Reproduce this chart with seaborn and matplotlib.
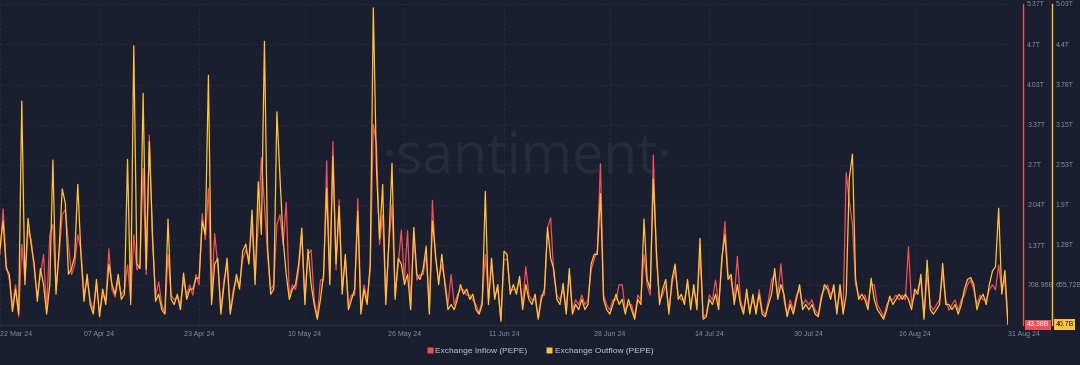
import pandas as pd
import matplotlib
matplotlib.use('Agg')
import matplotlib.pyplot as plt
import matplotlib.transforms as mtransforms
from matplotlib.lines import Line2D
import seaborn as sns

# 12-hour samples, 22 Mar 24 -> 31 Aug 24 (values in trillions of PEPE)
dates = pd.date_range('2024-03-22', '2024-08-31', freq='12h')

inflow = [
    1.21, 1.97, 1.04, 0.79, 0.34, 0.71, 0.18, 1.38, 0.79, 1.62,
    1.46, 0.96, 0.51, 0.88, 1.21, 0.29, 1.54, 1.71, 0.63, 1.21,
    1.87, 1.96, 1.38, 0.88, 1.04, 1.54, 1.29, 0.54, 0.79, 0.46,
    0.29, 0.71, 0.24, 0.54, 0.46, 1.31, 0.63, 0.51, 0.79, 0.54,
    0.63, 1.04, 0.46, 1.54, 0.96, 1.04, 2.64, 0.88, 3.19, 1.46,
    0.51, 0.76, 0.38, 0.24, 1.21, 0.54, 0.46, 0.51, 0.38, 0.79,
    0.54, 0.71, 0.54, 0.88, 0.71, 1.89, 1.46, 2.31, 0.46, 1.56,
    1.04, 0.29, 0.79, 1.04, 0.29, 0.63, 0.79, 0.71, 1.13, 1.29,
    1.13, 1.71, 0.79, 1.71, 2.82, 2.04, 1.21, 0.63, 0.71, 1.71,
    1.87, 1.38, 2.08, 0.54, 0.71, 0.63, 0.96, 1.54, 0.46, 1.21,
    1.29, 0.46, 0.18, 0.79, 0.79, 2.77, 0.79, 3.09, 0.96, 2.12,
    0.63, 1.13, 0.38, 0.54, 0.54, 2.14, 0.29, 0.71, 0.46, 0.96,
    3.37, 3.04, 1.38, 1.87, 0.46, 1.38, 2.04, 0.54, 1.04, 1.62,
    0.79, 1.61, 0.38, 1.54, 0.79, 0.88, 0.88, 1.21, 0.29, 2.11,
    1.13, 0.79, 1.04, 0.79, 0.38, 0.88, 0.38, 0.54, 0.63, 0.63,
    0.54, 0.54, 0.46, 0.38, 0.24, 0.46, 1.21, 0.46, 1.04, 0.54,
    0.63, 0.13, 1.13, 1.13, 0.63, 0.63, 0.63, 0.79, 0.38, 1.01,
    0.54, 0.46, 0.46, 0.18, 0.54, 0.54, 1.66, 1.82, 0.88, 0.54,
    0.46, 0.63, 0.29, 0.88, 0.29, 0.46, 0.38, 0.54, 0.38, 0.46,
    0.96, 1.13, 1.29, 2.72, 0.54, 0.38, 0.29, 0.46, 0.46, 0.71,
    0.71, 0.29, 0.38, 0.38, 0.18, 0.54, 0.46, 1.21, 0.71, 0.54,
    2.86, 1.13, 0.46, 0.54, 0.71, 0.29, 0.71, 0.96, 0.54, 0.46,
    0.46, 0.71, 0.38, 0.63, 0.38, 1.21, 0.18, 0.21, 0.54, 0.46,
    0.79, 0.38, 1.04, 1.76, 0.88, 0.79, 0.46, 1.18, 0.46, 0.29,
    0.54, 0.29, 0.46, 0.29, 0.63, 0.29, 0.21, 0.46, 0.79, 0.88,
    0.54, 1.06, 0.46, 0.21, 0.46, 0.29, 0.54, 0.63, 0.38, 0.46,
    0.38, 0.46, 0.29, 0.21, 0.54, 0.63, 0.71, 0.54, 0.63, 0.29,
    0.63, 0.29, 2.57, 2.09, 1.71, 0.71, 0.54, 0.46, 0.54, 0.38,
    0.71, 0.71, 0.38, 0.29, 0.18, 0.38, 0.46, 0.46, 0.54, 0.46,
    0.54, 0.46, 1.34, 0.38, 0.54, 0.63, 0.79, 0.18, 0.88, 0.38,
    0.29, 0.38, 0.46, 0.88, 0.46, 0.29, 0.38, 0.46, 0.29, 0.46,
    0.54, 0.71, 0.79, 0.63, 0.38, 0.54, 0.46, 0.46, 0.63, 0.71,
    0.63, 1.04, 0.63, 0.79, 0.04338,
]

outflow = [
    1.23, 1.65, 0.91, 0.82, 0.24, 0.59, 0.20, 3.52, 0.66, 1.69,
    1.29, 0.98, 0.40, 0.91, 0.66, 0.20, 0.66, 2.60, 0.51, 1.21,
    2.15, 1.93, 0.82, 0.91, 1.10, 2.22, 1.15, 0.40, 0.82, 0.35,
    0.20, 0.74, 0.16, 0.59, 0.35, 0.98, 0.66, 0.51, 0.82, 0.43,
    0.51, 2.61, 0.35, 4.38, 0.98, 0.91, 3.64, 0.90, 2.89, 1.46,
    0.40, 0.51, 0.27, 0.20, 1.68, 0.43, 0.35, 0.51, 0.27, 0.84,
    0.43, 0.59, 0.59, 0.76, 0.76, 1.65, 1.44, 3.92, 0.35, 0.98,
    1.07, 0.20, 0.66, 1.07, 0.20, 0.51, 0.82, 0.59, 1.18, 1.29,
    0.98, 1.82, 0.66, 2.26, 1.44, 4.45, 1.26, 0.51, 0.59, 3.35,
    2.32, 1.37, 0.82, 0.43, 0.59, 0.66, 0.98, 1.54, 0.35, 1.21,
    0.66, 0.35, 0.12, 0.43, 0.82, 2.16, 0.66, 2.66, 0.98, 1.88,
    0.51, 1.13, 0.27, 0.43, 0.59, 1.80, 0.20, 0.59, 0.35, 0.98,
    4.97, 2.47, 1.37, 2.22, 0.35, 1.33, 2.55, 0.43, 1.07, 0.98,
    0.66, 0.82, 0.27, 1.55, 0.82, 0.74, 0.90, 1.26, 0.20, 1.65,
    1.13, 0.66, 1.13, 0.66, 0.27, 0.35, 0.27, 0.43, 0.66, 0.51,
    0.59, 0.43, 0.51, 0.27, 0.20, 0.35, 2.11, 0.35, 1.07, 0.43,
    0.66, 0.09, 1.18, 1.13, 0.51, 0.66, 0.51, 0.79, 0.27, 0.66,
    0.43, 0.35, 0.51, 0.12, 0.43, 0.59, 1.55, 1.07, 0.90, 0.43,
    0.35, 0.68, 0.20, 0.91, 0.20, 0.35, 0.27, 0.43, 0.27, 0.35,
    0.98, 1.13, 1.13, 2.08, 0.43, 0.27, 0.20, 0.35, 0.51, 0.35,
    0.43, 0.20, 0.43, 0.27, 0.12, 0.43, 0.35, 1.68, 0.74, 0.59,
    2.30, 1.18, 0.35, 0.59, 0.74, 0.20, 0.74, 0.98, 0.43, 0.51,
    0.35, 0.74, 0.27, 0.66, 0.27, 1.38, 0.12, 0.16, 0.43, 0.35,
    0.51, 0.27, 1.07, 1.44, 0.74, 0.82, 0.35, 0.66, 0.35, 0.20,
    0.59, 0.20, 0.51, 0.20, 0.51, 0.20, 0.16, 0.35, 0.51, 0.91,
    0.43, 0.66, 0.51, 0.16, 0.35, 0.20, 0.43, 0.66, 0.27, 0.35,
    0.27, 0.35, 0.20, 0.16, 0.43, 0.66, 0.59, 0.43, 0.66, 0.20,
    0.66, 0.20, 0.51, 2.32, 2.69, 0.76, 0.43, 0.51, 0.43, 0.27,
    0.76, 0.43, 0.27, 0.20, 0.12, 0.27, 0.48, 0.35, 0.43, 0.51,
    0.43, 0.51, 0.43, 0.27, 0.59, 0.51, 0.82, 0.12, 1.04, 0.27,
    0.20, 0.27, 0.35, 0.99, 0.35, 0.35, 0.27, 0.35, 0.20, 0.35,
    0.59, 0.74, 0.77, 0.66, 0.27, 0.43, 0.51, 0.35, 0.66, 0.87,
    0.94, 1.85, 0.51, 0.88, 0.0407,
]

tick_dates = ['2024-03-22', '2024-04-07', '2024-04-23', '2024-05-10', '2024-05-26', '2024-06-11',
              '2024-06-28', '2024-07-14', '2024-07-30', '2024-08-16', '2024-08-31']
tick_labels = ['22 Mar 24', '07 Apr 24', '23 Apr 24', '10 May 24', '26 May 24', '11 Jun 24',
               '28 Jun 24', '14 Jul 24', '30 Jul 24', '16 Aug 24', '31 Aug 24']

inflow_ticks = [0.70896, 1.37, 2.04, 2.70, 3.37, 4.03, 4.70, 5.37]
inflow_labels = ['708.96B', '1.37T', '2.04T', '2.7T', '3.37T', '4.03T', '4.7T', '5.37T']
outflow_ticks = [0.65572, 1.28, 1.90, 2.53, 3.15, 3.78, 4.40, 5.03]
outflow_labels = ['655.72B', '1.28T', '1.9T', '2.53T', '3.15T', '3.78T', '4.4T', '5.03T']

BG = '#1b1e2e'
RED = '#f0505a'
YELLOW = '#ffc33d'
GRID = '#2a2e42'
TXT = '#858a9c'

df = pd.DataFrame({'date': dates, 'inflow': inflow, 'outflow': outflow})

sns.set_style('dark', {'axes.facecolor': BG, 'figure.facecolor': BG})
plt.rcParams['font.family'] = ['Liberation Sans', 'DejaVu Sans']

fig = plt.figure(figsize=(10.8, 3.65), dpi=100)
ax = fig.add_axes([0.0, 40 / 365, 1008 / 1080, 321 / 365])
ax.set_facecolor(BG)

# watermark behind the lines
ax.text(0.523, 0.52, '\u00b7santiment\u00b7', transform=ax.transAxes, ha='center', va='center',
        fontsize=40, color='#262a3d', family='Open Sans', zorder=0)

sns.lineplot(data=df, x='date', y='inflow', ax=ax, color=RED, linewidth=0.9, legend=False)
ax.set_ylim(0.04338, 5.37)
ax.set_xlim(dates[0], dates[-1])

ax2 = ax.twinx()
sns.lineplot(data=df, x='date', y='outflow', ax=ax2, color=YELLOW, linewidth=0.9, legend=False)
ax2.set_ylim(0.0308, 5.03)
ax2.set_xlim(dates[0], dates[-1])

for a in (ax, ax2):
    a.set_xlabel('')
    a.set_ylabel('')
    a.spines['top'].set_visible(False)
    a.spines['left'].set_visible(False)
    a.spines['bottom'].set_visible(False)

ax.spines['bottom'].set_visible(True)
ax.spines['bottom'].set_color(GRID)
ax.spines['bottom'].set_linewidth(0.8)

ax.yaxis.tick_right()
ax.spines['right'].set_position(('axes', 1.0149))
ax.spines['right'].set_color(RED)
ax.spines['right'].set_linewidth(1.0)
ax.set_yticks(inflow_ticks)
ax.set_yticklabels(inflow_labels)
ax.tick_params(axis='y', length=0, pad=3, labelsize=5, labelcolor=TXT)

ax2.spines['right'].set_position(('axes', 1.0437))
ax2.spines['right'].set_color(YELLOW)
ax2.spines['right'].set_linewidth(1.0)
ax2.set_yticks(outflow_ticks)
ax2.set_yticklabels(outflow_labels)
ax2.tick_params(axis='y', length=0, pad=2.5, labelsize=5, labelcolor=TXT)
ax2.grid(False)

ax.set_xticks(pd.to_datetime(tick_dates))
ax.set_xticklabels(tick_labels)
ax.tick_params(axis='x', length=0, pad=4, labelsize=5, labelcolor=TXT)
xt = ax.get_xticklabels()
xt[0].set_ha('left')
xt[-1].set_ha('left')

ax.grid(True, color=GRID, linestyle=(0, (3, 3)), linewidth=0.6)

# current value tags on both axes
tr = mtransforms.blended_transform_factory(ax.transAxes, ax.transData)
ax.text(1.0185, inflow[-1], '43.38B', transform=tr, fontsize=5, color='white', ha='left', va='center',
        bbox=dict(boxstyle='square,pad=0.25', fc=RED, ec='none'), zorder=5, clip_on=False)
tr2 = mtransforms.blended_transform_factory(ax2.transAxes, ax2.transData)
ax2.text(1.047, outflow[-1], '40.7B', transform=tr2, fontsize=5, color='#1b1e2e', ha='left', va='center',
         bbox=dict(boxstyle='square,pad=0.25', fc=YELLOW, ec='none'), zorder=5, clip_on=False)

handles = [Line2D([0], [0], marker='s', linestyle='none', markersize=4.5,
                  markerfacecolor=RED, markeredgecolor='none'),
           Line2D([0], [0], marker='s', linestyle='none', markersize=4.5,
                  markerfacecolor=YELLOW, markeredgecolor='none')]
fig.legend(handles, ['Exchange Inflow (PEPE)', 'Exchange Outflow (PEPE)'], loc='center',
           bbox_to_anchor=(0.5, 14 / 365), ncol=2, frameon=False, fontsize=6,
           handlelength=0.8, handletextpad=0.3, columnspacing=2.2, labelcolor='#c3c6d0')

fig.savefig('out.png', dpi=100, facecolor=BG)
